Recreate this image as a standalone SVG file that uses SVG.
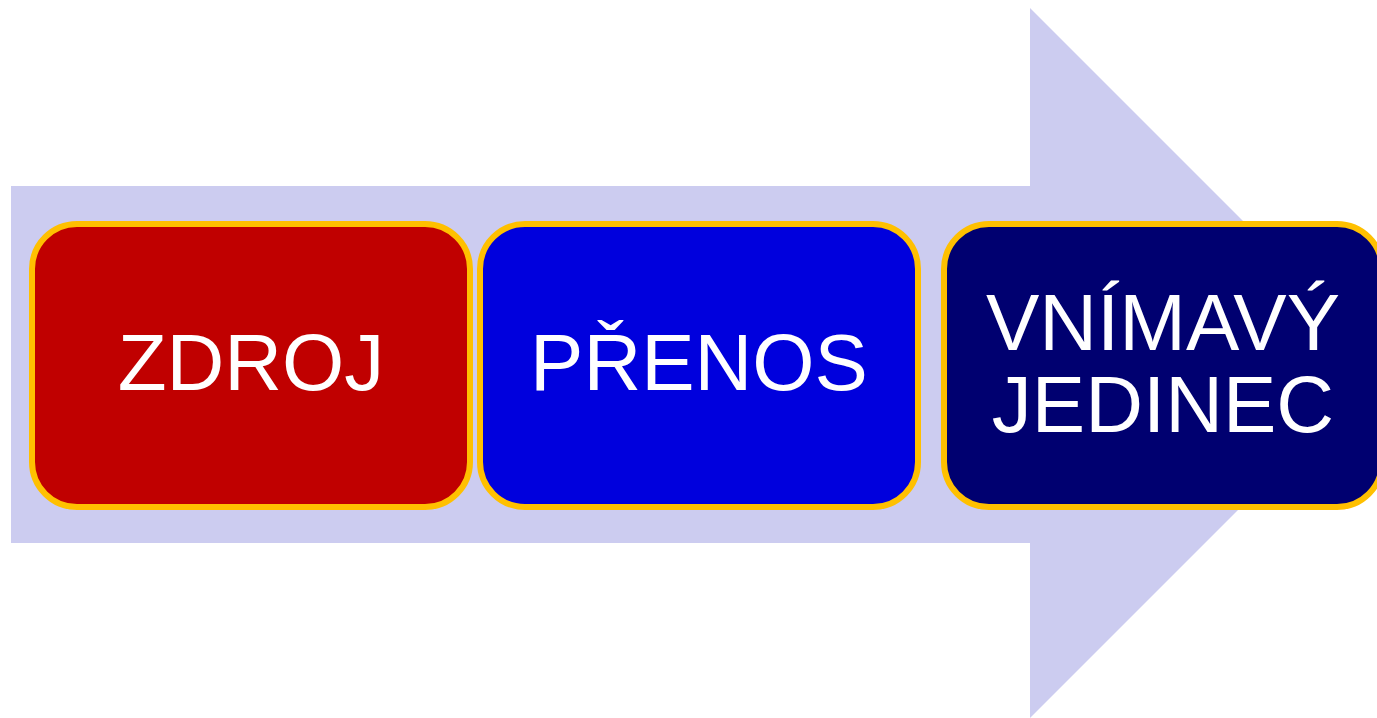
<svg xmlns="http://www.w3.org/2000/svg" width="1377" height="718" viewBox="0 0 1377 718">
<style>
.box{stroke:#FFC000;stroke-width:6}
.t{font-family:"Liberation Sans",Arial,sans-serif;font-size:80px;fill:#fff;text-anchor:middle}
</style>
<rect width="1377" height="718" fill="#fff"/>
<g id="arrow">
<polygon points="11,186 1030,186 1030,8 1385,363 1030,718 1030,543 11,543" fill="#CCCCF0"/>
</g>
<g id="connectors"></g>
<g id="zdroj">
<rect class="box" x="32" y="224" width="438" height="283" rx="45" fill="#C00000"/>
<text class="t" x="251" y="390">ZDROJ</text>
</g>
<g id="prenos">
<rect class="box" x="480" y="224" width="438" height="283" rx="45" fill="#0000DD"/>
<text class="t" x="699" y="390">PŘENOS</text>
</g>
<g id="vnimavy">
<rect class="box" x="944" y="224" width="438" height="283" rx="45" fill="#000070"/>
<text class="t" x="1163" y="350">VNÍMAVÝ</text>
<text class="t" x="1163" y="432">JEDINEC</text>
</g>
</svg>
